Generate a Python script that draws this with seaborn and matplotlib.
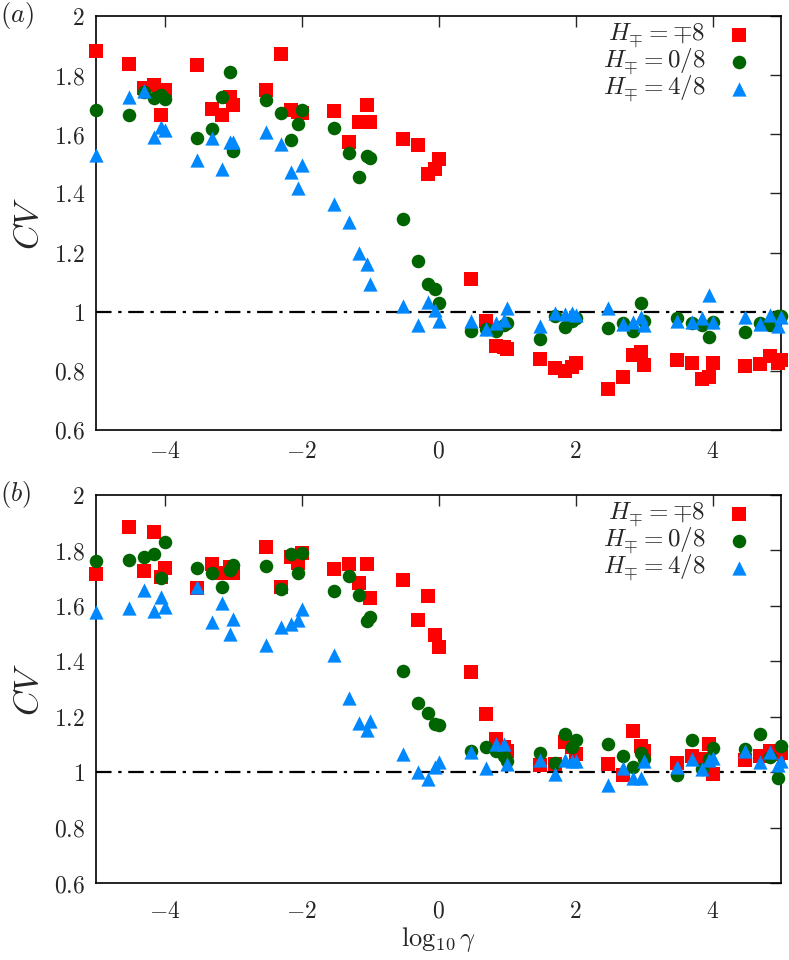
import matplotlib
matplotlib.use("Agg")
import matplotlib.pyplot as plt
import seaborn as sns
import pandas as pd
from matplotlib.ticker import FuncFormatter, MultipleLocator

# log10(gamma), gamma = 1,3,5,7,9 x 10^n
log_gamma = [-5.0, -4.523, -4.301, -4.155, -4.046,
             -4.0, -3.523, -3.301, -3.155, -3.046,
             -3.0, -2.523, -2.301, -2.155, -2.046,
             -2.0, -1.523, -1.301, -1.155, -1.046,
             -1.0, -0.523, -0.301, -0.155, -0.046,
             0.0, 0.477, 0.699, 0.845, 0.954,
             1.0, 1.477, 1.699, 1.845, 1.954,
             2.0, 2.477, 2.699, 2.845, 2.954,
             3.0, 3.477, 3.699, 3.845, 3.954,
             4.0, 4.477, 4.699, 4.845, 4.954,
             5.0]

series_labels = [r'$H_{\mp} = \mp 8$', r'$H_{\mp} = 0/8$', r'$H_{\mp} = 4/8$']

# panel (a)
cv_a_m8 = [1.881, 1.839, 1.757, 1.765, 1.664,
           1.748, 1.834, 1.684, 1.666, 1.727,
           1.698, 1.748, 1.872, 1.681, 1.675,
           1.672, 1.679, 1.574, 1.641, 1.699,
           1.640, 1.583, 1.563, 1.464, 1.482,
           1.516, 1.111, 0.970, 0.883, 0.880,
           0.875, 0.841, 0.810, 0.800, 0.812,
           0.827, 0.739, 0.780, 0.855, 0.864,
           0.821, 0.835, 0.826, 0.771, 0.779,
           0.827, 0.818, 0.823, 0.849, 0.827,
           0.838]
cv_a_0 = [1.681, 1.666, 1.743, 1.724, 1.732,
          1.718, 1.588, 1.619, 1.727, 1.810,
          1.544, 1.716, 1.672, 1.579, 1.633,
          1.681, 1.620, 1.538, 1.456, 1.527,
          1.518, 1.312, 1.172, 1.094, 1.078,
          1.030, 0.936, 0.940, 0.936, 0.955,
          0.962, 0.908, 0.984, 0.947, 0.970,
          0.979, 0.945, 0.962, 0.936, 1.029,
          0.967, 0.979, 0.962, 0.956, 0.916,
          0.965, 0.930, 0.962, 0.956, 0.984,
          0.984]
cv_a_4 = [1.529, 1.726, 1.746, 1.592, 1.623,
          1.615, 1.513, 1.587, 1.484, 1.574,
          1.574, 1.606, 1.566, 1.473, 1.419,
          1.495, 1.364, 1.302, 1.198, 1.162,
          1.095, 1.018, 0.954, 1.033, 1.007,
          0.968, 0.967, 0.943, 0.962, 0.973,
          1.012, 0.950, 0.995, 0.992, 0.995,
          0.988, 1.012, 0.958, 0.965, 0.981,
          0.954, 0.967, 0.965, 0.979, 1.057,
          0.965, 0.981, 0.958, 0.988, 0.950,
          0.981]

# panel (b)
cv_b_m8 = [1.714, 1.886, 1.726, 1.868, 1.705,
           1.735, 1.663, 1.751, 1.720, 1.741,
           1.717, 1.814, 1.667, 1.778, 1.756,
           1.790, 1.734, 1.751, 1.684, 1.751,
           1.627, 1.693, 1.549, 1.635, 1.494,
           1.450, 1.362, 1.211, 1.121, 1.090,
           1.075, 1.024, 1.030, 1.108, 1.090,
           1.066, 1.028, 0.988, 1.148, 1.093,
           1.078, 1.033, 1.060, 1.048, 1.100,
           0.992, 1.045, 1.060, 1.078, 1.066,
           1.069]
cv_b_0 = [1.763, 1.766, 1.778, 1.787, 1.702,
          1.832, 1.738, 1.720, 1.667, 1.729,
          1.747, 1.744, 1.662, 1.787, 1.720,
          1.792, 1.653, 1.708, 1.639, 1.546,
          1.561, 1.365, 1.250, 1.213, 1.175,
          1.169, 1.078, 1.090, 1.076, 1.057,
          1.042, 1.069, 1.033, 1.136, 1.090,
          1.117, 1.100, 1.060, 1.020, 1.069,
          1.048, 0.988, 1.117, 1.012, 1.048,
          1.088, 1.084, 1.136, 1.054, 0.980,
          1.096]
cv_b_4 = [1.579, 1.594, 1.657, 1.582, 1.633,
          1.597, 1.669, 1.542, 1.611, 1.500,
          1.552, 1.458, 1.524, 1.536, 1.549,
          1.588, 1.422, 1.269, 1.177, 1.153,
          1.183, 1.066, 1.000, 0.975, 1.018,
          1.036, 1.072, 1.016, 1.100, 1.100,
          1.028, 1.045, 0.992, 1.045, 1.042,
          1.040, 0.952, 1.016, 0.980, 0.980,
          1.040, 1.018, 1.048, 1.012, 1.045,
          1.052, 1.078, 1.036, 1.072, 1.024,
          1.042]

colors = ['#ff0000', '#006400', '#0088ff']
markers = ['s', 'o', '^']
sizes = [90, 95, 105]


def MakePanel(ax, series, tag, show_xlabel, xpad):
    for vals, lab, col, mk, sz in zip(series, series_labels, colors, markers, sizes):
        df = pd.DataFrame({'x': log_gamma, 'cv': vals})
        sns.scatterplot(data=df, x='x', y='cv', ax=ax, color=col, marker=mk,
                        s=sz, linewidth=0, label=lab, clip_on=False, zorder=3)
    ax.axhline(1.0, color='black', lw=1.6, dashes=(7, 3, 1.5, 3), zorder=2)

    ax.set_xlim(-5, 5)
    ax.set_ylim(0.6, 2.0)
    ax.xaxis.set_major_locator(MultipleLocator(2))
    ax.yaxis.set_major_locator(MultipleLocator(0.2))
    ax.xaxis.set_major_formatter(FuncFormatter(lambda v, p: '$%g$' % round(v, 6)))
    ax.yaxis.set_major_formatter(FuncFormatter(lambda v, p: '$%g$' % round(v, 6)))
    ax.tick_params(direction='in', length=8, width=1, top=True, right=True,
                   labelsize=17, pad=8)
    ax.tick_params(axis='x', pad=xpad)
    for sp in ax.spines.values():
        sp.set_linewidth(1.2)
        sp.set_color('black')

    ax.set_ylabel(r'$CV$', fontsize=25, labelpad=6)
    if show_xlabel:
        ax.set_xlabel(r'$\log_{10}\gamma$', fontsize=19, labelpad=2)
    else:
        ax.set_xlabel('')
    ax.text(-0.14, 1.0, tag, transform=ax.transAxes, fontsize=19, va='center', ha='left')

    # gnuplot-like key: text right aligned, symbol on the right
    leg = ax.legend(loc='upper right', markerfirst=False, frameon=False, fontsize=18,
                    handlelength=1.5, handletextpad=0.6, labelspacing=-0.18,
                    borderaxespad=0.0, borderpad=0.25, bbox_to_anchor=(0.975, 1.0))
    for t in leg.get_texts():
        t.set_horizontalalignment('right')


sns.set_theme(style='white')
plt.rcParams['mathtext.fontset'] = 'cm'
plt.rcParams['font.family'] = ['DejaVu Serif']

fig = plt.figure(figsize=(7.89, 9.6), dpi=100)
ax_a = fig.add_axes([0.1217, 0.5521, 0.8682, 0.4313])
ax_b = fig.add_axes([0.1217, 0.0802, 0.8682, 0.4042])

MakePanel(ax_a, [cv_a_m8, cv_a_0, cv_a_4], r'$(a)$', False, 7)
MakePanel(ax_b, [cv_b_m8, cv_b_0, cv_b_4], r'$(b)$', True, 12)

fig.savefig('out.png', dpi=100)
